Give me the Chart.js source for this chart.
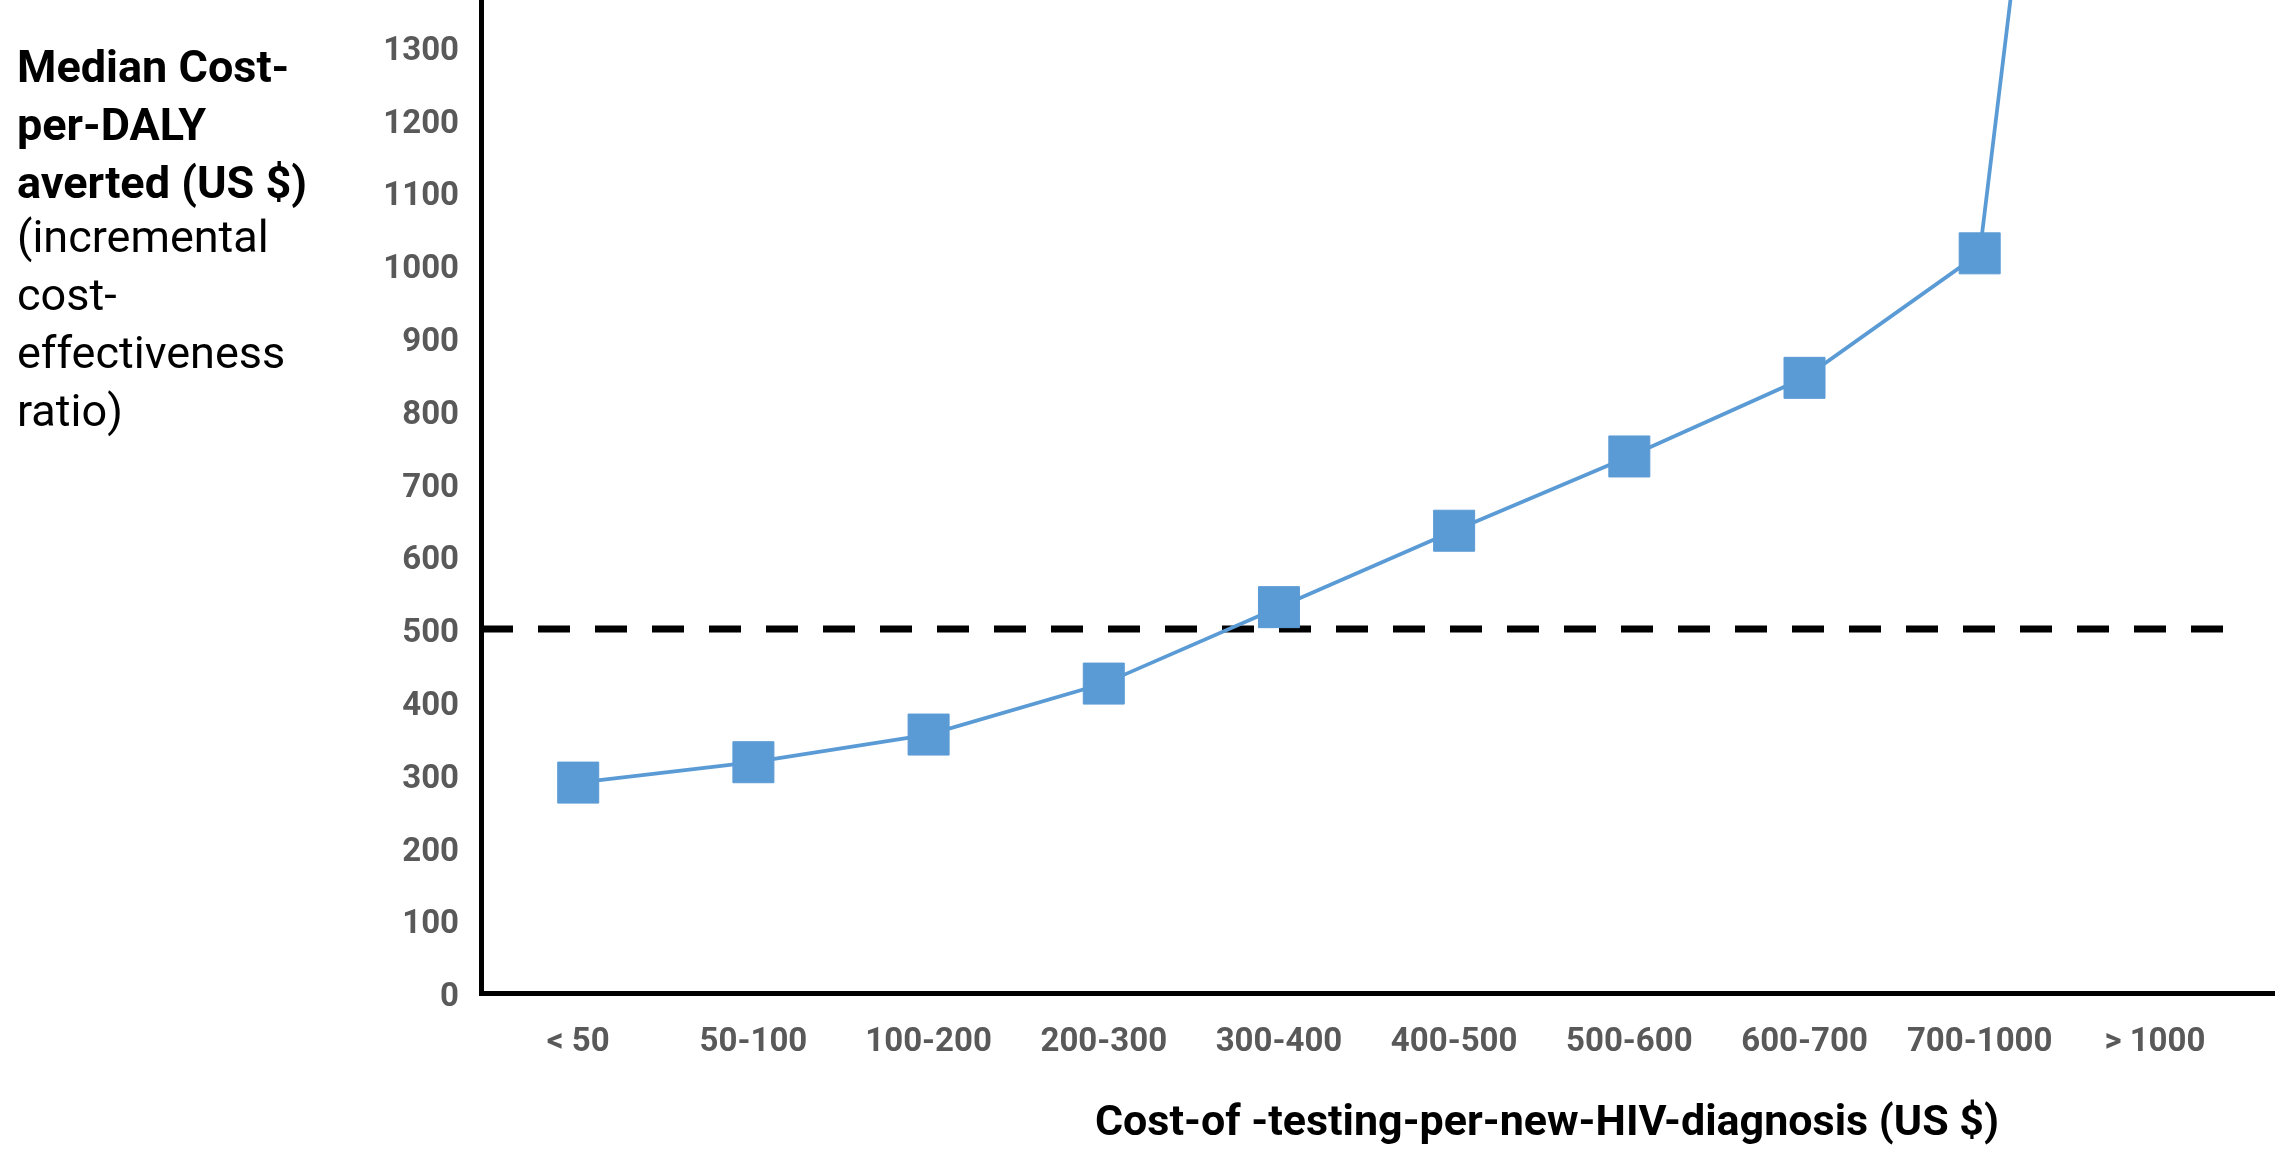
<!DOCTYPE html>
<html>
<head>
<meta charset="utf-8">
<script src="https://cdn.jsdelivr.net/npm/chart.js@4.4.1/dist/chart.umd.min.js"></script>
<style>
    body { margin: 0; background: #fff; }
    #wrap { position: relative; width: 2278px; height: 1149px; }
    canvas { display: block; }
    .txt { font-family: Roboto, 'Open Sans', sans-serif; color: #000; position: absolute; }
    .ytitle { left: 17px; font-size: 45px; line-height: 58px; }
    #ytitleBold { top: 38px; font-weight: bold; }
    #ytitleNote { top: 208px; }
    #xtitle { left: 1547px; top: 1120px; transform: translate(-50%, -50%);
              font-size: 43px; font-weight: bold; white-space: nowrap; }
</style>
</head>
<body>
<div id="wrap">
    <canvas id="costChart" width="2278" height="1149"></canvas>
    <div id="ytitleBold" class="txt ytitle">Median Cost-<br>per-DALY<br>averted (US $)</div>
    <div id="ytitleNote" class="txt ytitle">(incremental<br>cost-<br>effectiveness<br>ratio)</div>
    <div id="xtitle" class="txt">Cost-of -testing-per-new-HIV-diagnosis (US $)</div>
</div>
<script>
const categories = ['< 50', '50-100', '100-200', '200-300', '300-400', '400-500', '500-600', '600-700', '700-1000', '> 1000'];
const medianCost = [289, 317, 355, 425, 530, 635, 737, 845, 1016, 3000];
const threshold = 500;

// axis ranges (category index on x, US $ on y)
const xMin = -0.555;
const xMax = 9.68;
const yMax = 1364;

const fontFamily = "Roboto, 'Open Sans', sans-serif";
const tickColor = '#595959';
const blue = '#5B9BD5';

const ctx = document.getElementById('costChart').getContext('2d');
new Chart(ctx, {
    type: 'line',
    data: {
        datasets: [{
            data: medianCost.map((v, i) => ({ x: i, y: v })),
            borderColor: blue,
            backgroundColor: blue,
            borderWidth: 3.75,
            pointStyle: 'rect',
            pointRadius: 29,
            pointBorderWidth: 1,
            pointBackgroundColor: blue,
            pointBorderColor: blue,
            tension: 0
        }, {
            // threshold line, drawn under the series
            data: [{ x: xMin, y: threshold }, { x: categories.length - 0.5, y: threshold }],
            borderColor: '#000',
            borderWidth: 7,
            borderDash: [32, 25],
            pointRadius: 0
        }]
    },
    options: {
        responsive: false,
        animation: false,
        devicePixelRatio: 1,
        layout: { autoPadding: false, padding: { top: 0, right: 4, bottom: 0, left: 0 } },
        plugins: { legend: { display: false }, tooltip: { enabled: false } },
        scales: {
            x: {
                type: 'linear',
                min: xMin,
                max: xMax,
                grid: { display: false, drawTicks: false },
                border: { display: true, color: '#000', width: 5 },
                ticks: {
                    stepSize: 1,
                    includeBounds: false,
                    autoSkip: false,
                    maxRotation: 0,
                    padding: 30,
                    color: tickColor,
                    font: { family: fontFamily, size: 33, weight: 'bold' },
                    callback: value => categories[value] ?? ''
                },
                afterFit: scale => {
                    scale.height = 156;
                    scale.paddingLeft = 0;
                    scale.paddingRight = 0;
                }
            },
            y: {
                min: 0,
                max: yMax,
                grid: { display: false, drawTicks: false },
                border: { display: true, color: '#000', width: 5 },
                ticks: {
                    stepSize: 100,
                    includeBounds: false,
                    padding: 22,
                    labelOffset: 5,
                    color: tickColor,
                    font: { family: fontFamily, size: 33, weight: 'bold' },
                    callback: value => String(value)
                },
                afterFit: scale => {
                    scale.width = 481;
                    scale.paddingTop = 0;
                    scale.paddingBottom = 0;
                }
            }
        }
    }
});
</script>
</body>
</html>
